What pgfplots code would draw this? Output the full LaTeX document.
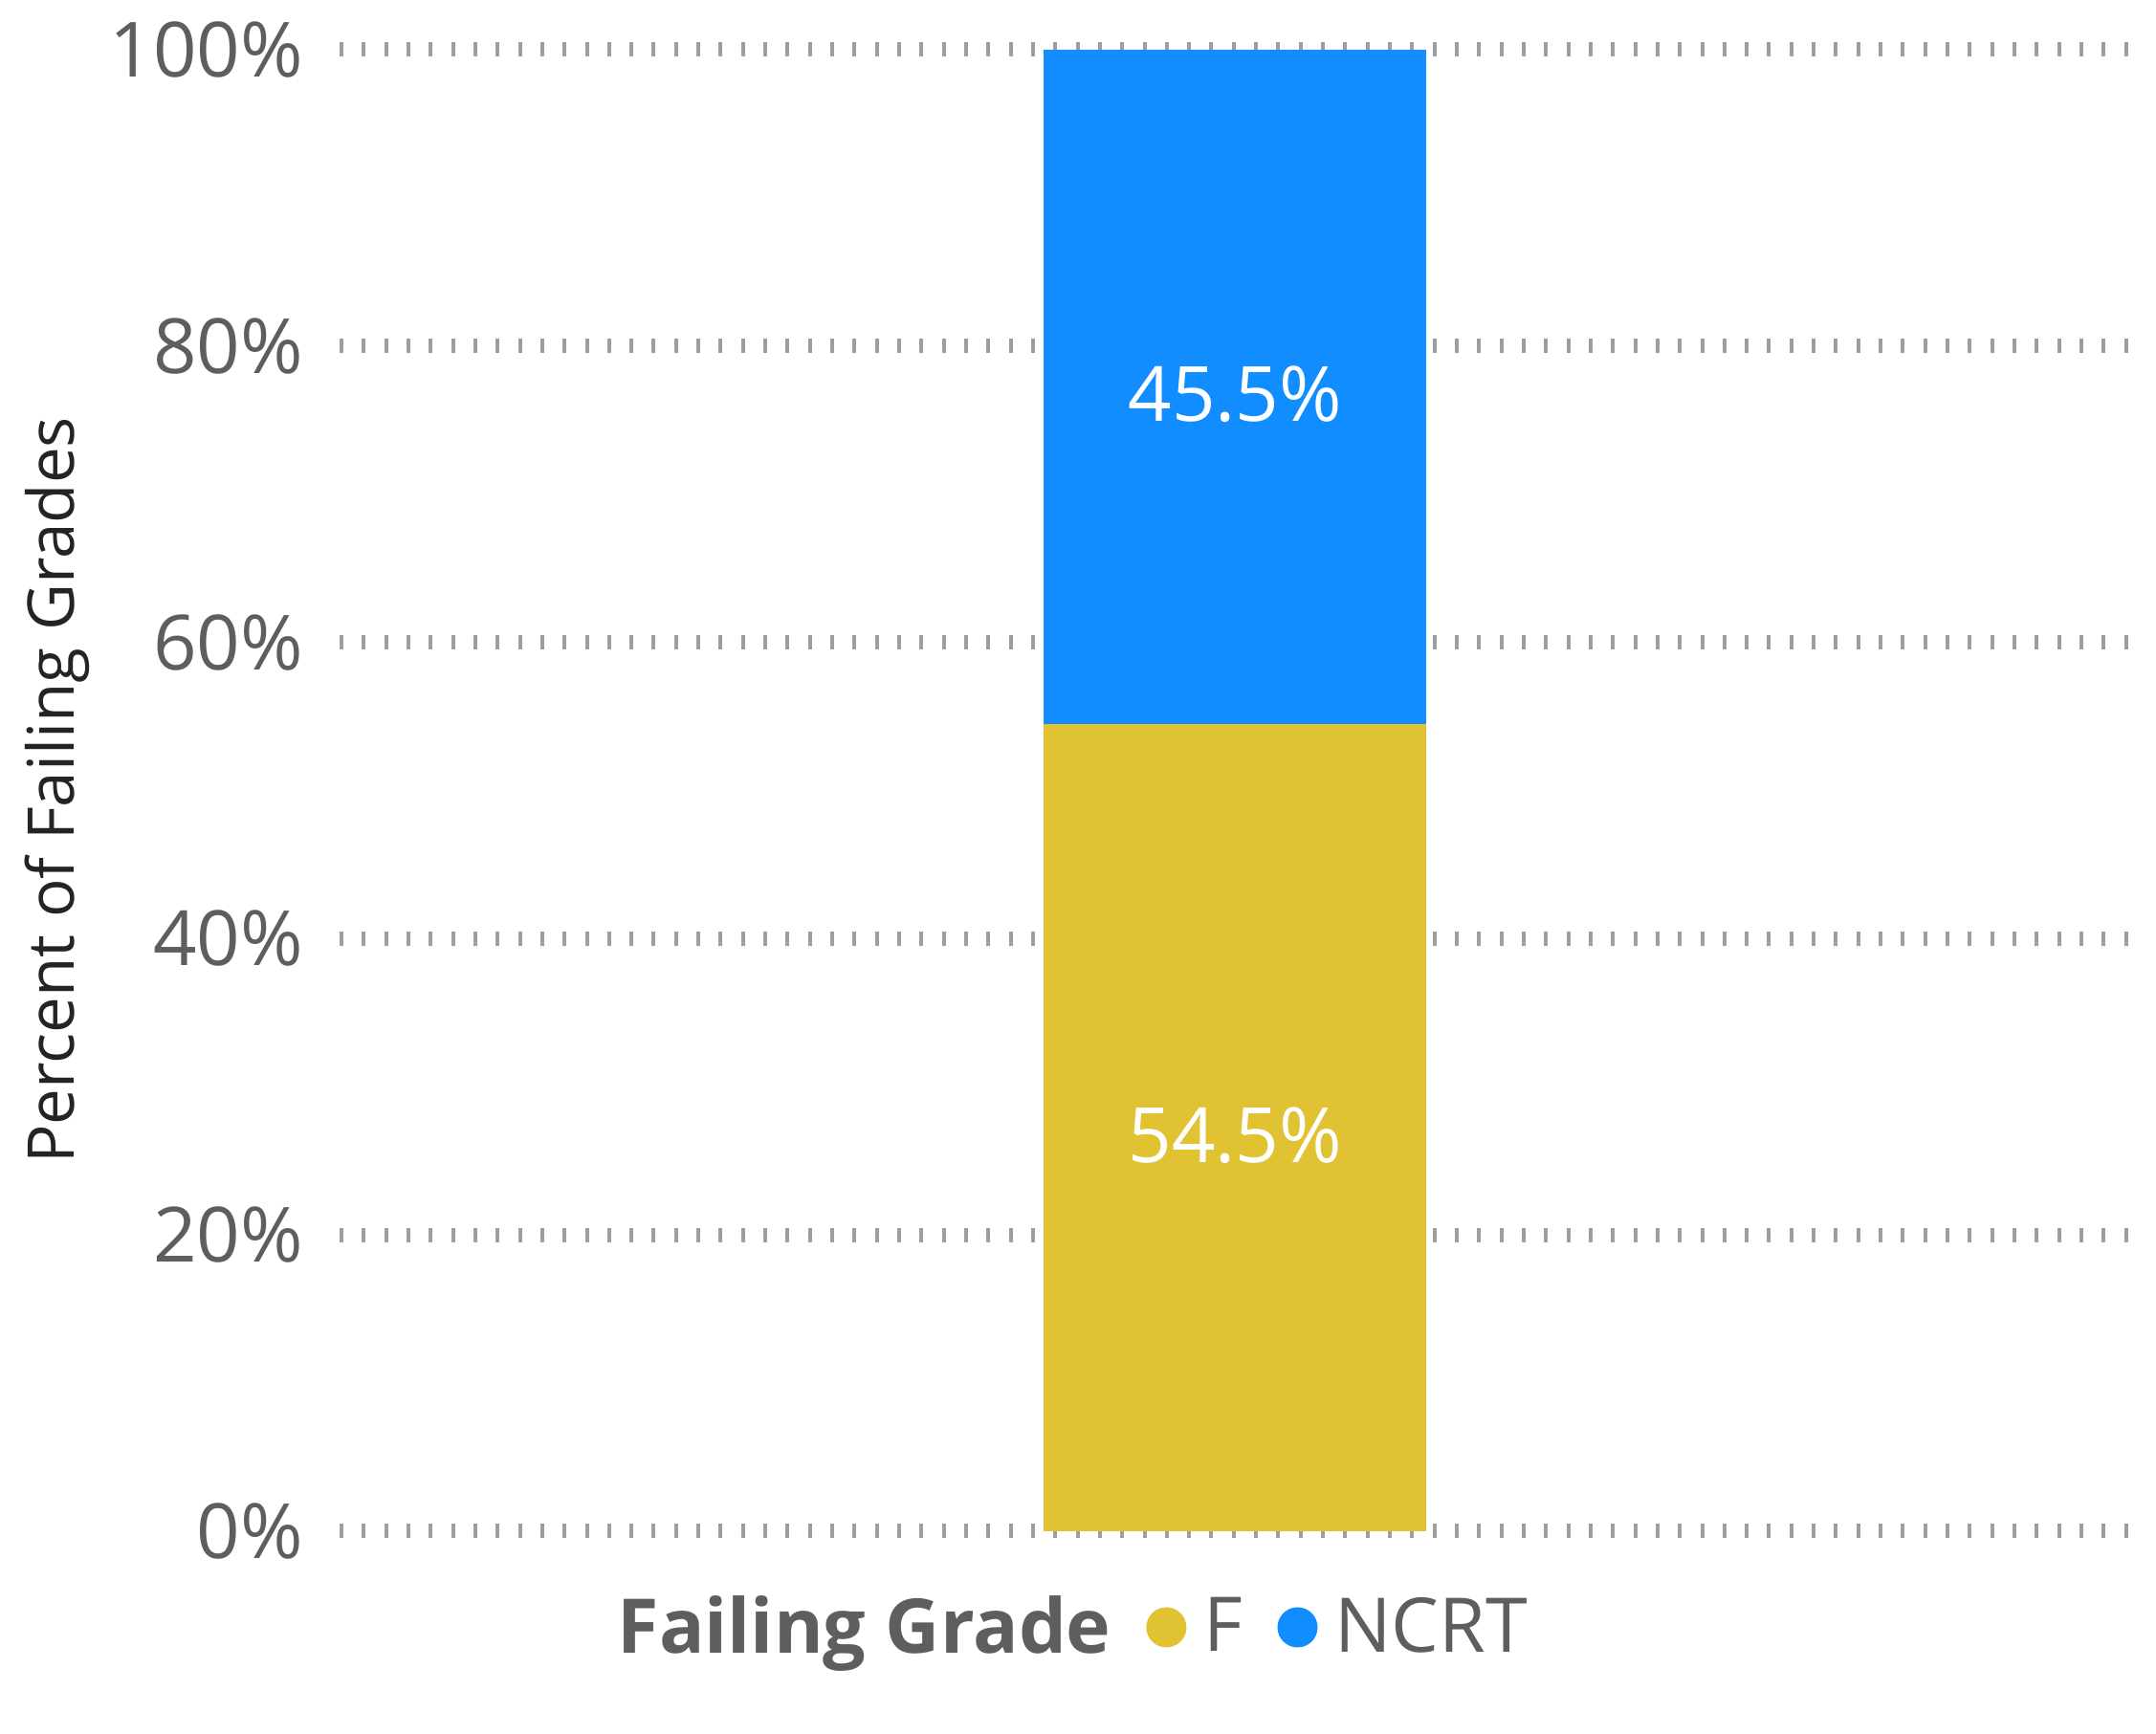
\documentclass[border=0pt]{standalone}
\usepackage{pgfplots}
\pgfplotsset{compat=1.18}
\usepackage{fontspec}
\setmainfont{Open Sans}
\definecolor{fgold}{HTML}{E0C233}
\definecolor{nblue}{HTML}{118DFF}
\definecolor{ticklab}{HTML}{605E5C}
\definecolor{ylab}{HTML}{252423}
\definecolor{gridc}{HTML}{9E9E9E}
\begin{document}
\begin{tikzpicture}
\useasboundingbox (-88bp,-53.05bp) rectangle (475.5bp,400.2bp);
\begin{axis}[
  at={(0,0)}, anchor=south west,
  scale only axis, width=472.5bp, height=387.2bp,
  ybar stacked, bar width=100bp,
  xmin=-1, xmax=1.012, ymin=0, ymax=100,
  clip=false,
  axis line style={draw=none},
  major tick length=0pt,
  xtick=\empty,
  ytick={0,20,...,100},
  yticklabel={\pgfmathprintnumber{\tick}\%},
  /pgf/number format/assume math mode=true,
  ymajorgrids,
  major grid style={gridc, line width=3.75bp, dash pattern=on 1bp off 4.83bp, dash phase=-0.75bp},
  yticklabel style={font=\fontsize{20}{24}\selectfont, text=ticklab, anchor=east, inner sep=0pt, xshift=-8.6bp},
  every axis y label/.style={at={(axis description cs:-0.1545,0.5)}, rotate=90, anchor=center, font=\fontsize{16.9}{20}\selectfont, text=ylab},
  ylabel={Percent of Failing Grades},
  legend style={at={(axis description cs:0.4024,-0.065)}, anchor=center, draw=none, fill=none,
    legend columns=-1, font=\fontsize{19.8}{24}\selectfont, text=ticklab,
    nodes={inner sep=0pt},
    /tikz/every odd column/.style={column sep=4.4bp},
    /tikz/every even column/.style={column sep=9.2bp}},
  point meta=explicit,
  nodes near coords={\pgfmathprintnumber[fixed,precision=1,fixed zerofill]{\pgfplotspointmeta}\%},
]
\addlegendimage{empty legend}
\addlegendentry{\textbf{Failing Grade}}
\addplot[fill=fgold, draw=none,
  every node near coord/.append style={text=white, font=\fontsize{20}{24}\selectfont, anchor=center, yshift=-2bp},
  legend image code/.code={\fill[fgold] (5.25bp,0) circle (5.25bp);}]
  coordinates {(0,54.5) [54.5]};
\addlegendentry{F}
\addplot[fill=nblue, draw=none,
  every node near coord/.append style={text=white, font=\fontsize{20}{24}\selectfont, anchor=center, yshift=-2bp},
  legend image code/.code={\fill[nblue] (5.25bp,0) circle (5.25bp);}]
  coordinates {(0,45.5) [45.5]};
\addlegendentry{NCRT}
\end{axis}
\end{tikzpicture}
\end{document}
